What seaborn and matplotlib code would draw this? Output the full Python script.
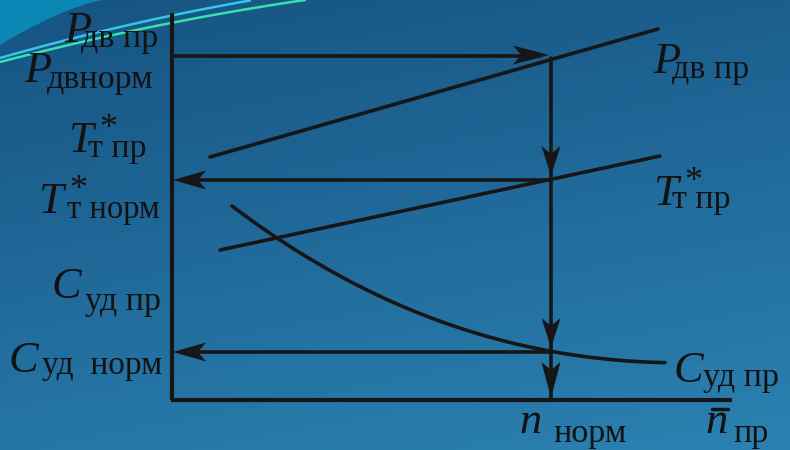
import numpy as np
import pandas as pd
import matplotlib
matplotlib.use("Agg")
import matplotlib.pyplot as plt
import seaborn as sns
from matplotlib.patches import Polygon

sns.set_theme(style="white")
plt.rcParams['font.family'] = ['Liberation Serif', 'DejaVu Serif']

# ---- data (pixel-like diagram units, y grows downward) ----
p_line_x = [210, 658]
p_line_y = [157, 29]
t_line_x = [220, 660]
t_line_y = [250, 156]
c_curve_x = [232, 280, 350, 420, 480, 548, 600, 665]
c_curve_y = [207, 238, 282, 314, 335, 350, 358, 363]
axis_x0, axis_y0 = 172, 400
axis_top, axis_right = 13, 732
n_norm = 551
p_norm_y = 56
t_norm_y = 180
c_norm_y = 352

LINE = '#161616'
W, H = 790, 450

fig = plt.figure(figsize=(7.9, 4.5), dpi=100)
ax = fig.add_axes([0, 0, 1, 1])

# background gradient
yy, xx = np.mgrid[0:1:200j, 0:1:200j]
t = 0.75 * yy + 0.25 * xx
c0 = np.array([0x16, 0x53, 0x82]) / 255
c1 = np.array([0x2b, 0x82, 0xb2]) / 255
img = c0[None, None, :] * (1 - t[..., None]) + c1[None, None, :] * t[..., None]
ax.imshow(img, extent=[0, W, H, 0], aspect='auto', zorder=0)

# decorative swoosh top-left
sx = np.linspace(0, 105, 50)
sy = 45 * (1 - sx / 105) ** 1.4
ax.fill(np.r_[sx, 0], np.r_[sy, 0], color='#0b87b6', zorder=1, lw=0)
dx1 = np.linspace(0, 250, 60)
ax.plot(dx1, 58 - 0.285 * dx1 + 0.00022 * dx1 ** 2, color='#33c6e8', lw=1.8, zorder=1)
dx2 = np.linspace(0, 305, 60)
ax.plot(dx2, 62 - 0.26 * dx2 + 0.000186 * dx2 ** 2, color='#33e2ad', lw=1.8, zorder=1)

# axes of diagram
ax.plot([axis_x0, axis_x0], [axis_top, axis_y0], color=LINE, lw=3, zorder=3, solid_capstyle='butt')
ax.plot([axis_x0 - 1.5, axis_right], [axis_y0, axis_y0], color=LINE, lw=3, zorder=3, solid_capstyle='butt')

# characteristic lines via seaborn
df_p = pd.DataFrame({'x': p_line_x, 'y': p_line_y})
df_t = pd.DataFrame({'x': t_line_x, 'y': t_line_y})
df_c = pd.DataFrame({'x': c_curve_x, 'y': c_curve_y})
for d in (df_p, df_t):
    sns.lineplot(data=d, x='x', y='y', ax=ax, color=LINE, lw=2.6, zorder=4, sort=False)
cs = np.polyfit(df_c['x'], df_c['y'], 3)
cx = np.linspace(c_curve_x[0], c_curve_x[-1], 100)
sns.lineplot(x=cx, y=np.polyval(cs, cx), ax=ax, color=LINE, lw=2.6, zorder=4)


def head(tip, direction, length=32, width=19, notch=8):
    tip = np.array(tip, float)
    d = np.array(direction, float)
    d /= np.linalg.norm(d)
    n = np.array([-d[1], d[0]])
    base = tip - d * length
    pts = [tip, base + n * width / 2, tip - d * (length - notch), base - n * width / 2]
    ax.add_patch(Polygon(pts, closed=True, color=LINE, zorder=5, lw=0))


# projection arrows
ax.plot([axis_x0, 540], [p_norm_y, p_norm_y], color=LINE, lw=2.6, zorder=4)
head((549, p_norm_y - 1), (1, 0), length=36)
ax.plot([n_norm, n_norm], [p_norm_y + 2, axis_y0], color=LINE, lw=2.6, zorder=4)
head((n_norm, t_norm_y - 4), (0, 1), length=30)
head((n_norm, c_norm_y - 4), (0, 1), length=30)
head((n_norm, axis_y0 - 2), (0, 1), length=36)
ax.plot([n_norm, axis_x0 + 20], [t_norm_y, t_norm_y], color=LINE, lw=2.6, zorder=4)
head((axis_x0 + 1, t_norm_y), (-1, 0), length=33)
ax.plot([n_norm, axis_x0 + 20], [c_norm_y, c_norm_y], color=LINE, lw=2.6, zorder=4)
head((axis_x0 + 1, c_norm_y), (-1, 0), length=33)

# labels
BIG = 32
SUB = 24.5
STAR = 26
TXT = '#121212'


def lab(x, y, s, size, italic=False):
    ax.text(x, y, s, fontsize=size, color=TXT, ha='left', va='baseline',
            style='italic' if italic else 'normal', zorder=6)


lab(64, 42, 'P', BIG, True); lab(81, 47, 'дв пр', SUB)
lab(24, 82, 'P', BIG, True); lab(47, 88, 'двнорм', SUB)
lab(68, 152, 'T', BIG, True); lab(99, 138, '*', STAR); lab(88, 157, 'т пр', SUB)
lab(38, 213, 'T', BIG, True); lab(69, 199, '*', STAR); lab(67, 218, 'т норм', 23.5)
lab(52, 298, 'C', BIG, True); lab(85, 310, 'уд пр', SUB)
lab(9, 372, 'C', BIG, True); lab(42, 374, 'уд  норм', 24)
lab(653, 73, 'P', BIG, True); lab(672, 78, 'дв пр', SUB)
lab(653, 205, 'T', BIG, True); lab(684, 191, '*', STAR); lab(672, 208, 'т пр', SUB)
lab(674, 382, 'C', BIG, True); lab(703, 386, 'уд пр', SUB)
lab(519, 433, 'n', BIG, True); lab(553, 442, 'норм', SUB)
lab(705, 433, 'n', BIG, True); lab(733, 442, 'пр', SUB)
ax.plot([712, 728], [409, 409], color=TXT, lw=2.5, zorder=6)

ax.set_xlim(0, W)
ax.set_ylim(H, 0)
ax.axis('off')
fig.savefig('out.png', dpi=100)
